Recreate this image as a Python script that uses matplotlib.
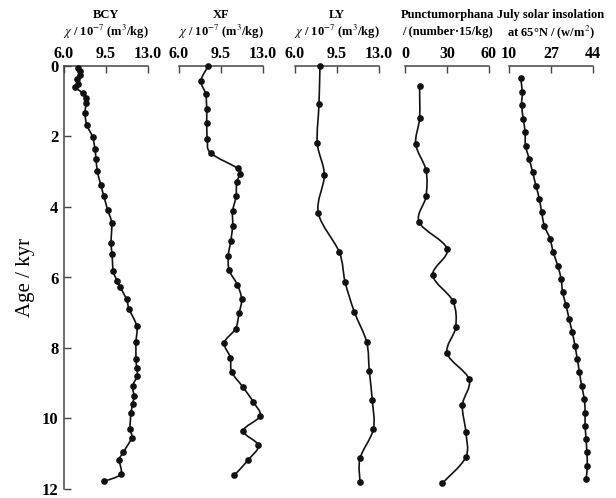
import numpy as np
import matplotlib
matplotlib.use('Agg')
import matplotlib.pyplot as plt
from matplotlib.path import Path
from matplotlib.patches import PathPatch

plt.rcParams['font.family'] = ['Liberation Serif', 'DejaVu Serif']
plt.rcParams['mathtext.fontset'] = 'stix'

# Données (âge en kyr, valeur)
bcy_age = [0.07, 0.15, 0.25, 0.38, 0.50, 0.60, 0.78, 0.90, 1.04, 1.34, 1.67, 2.02, 2.36, 2.64,
           2.99, 3.37, 3.70, 4.09, 4.45, 5.02, 5.32, 5.82, 6.10, 6.27, 6.62, 6.89, 7.38, 7.83,
           8.30, 8.56, 8.79, 9.08, 9.36, 9.60, 9.85, 10.30, 10.54, 10.96, 11.17, 11.58, 11.78]
bcy_val = [7.20, 7.35, 7.30, 7.10, 7.20, 6.95, 7.60, 7.80, 7.85, 7.75, 7.90, 8.39, 8.58, 8.67,
           8.78, 9.06, 9.33, 9.64, 9.97, 9.92, 10.00, 10.11, 10.44, 10.67, 11.22, 11.42, 12.06, 12.00,
           12.00, 12.06, 12.10, 11.72, 11.83, 11.72, 11.58, 11.50, 11.64, 10.94, 10.61, 10.72, 9.36]

xf_age = [0.00, 0.42, 0.79, 1.23, 1.62, 2.08, 2.47, 2.90, 3.06, 3.30, 3.70, 4.12, 4.53, 4.97,
          5.38, 5.80, 6.20, 6.62, 7.02, 7.45, 7.85, 8.27, 8.68, 9.10, 9.53, 9.93, 10.35, 10.76,
          11.17, 11.61]
xf_val = [8.44, 7.83, 8.22, 8.31, 8.31, 8.36, 8.64, 10.89, 11.08, 10.81, 10.75, 10.47, 10.47, 10.31,
          10.11, 10.19, 10.86, 11.22, 11.00, 10.72, 9.78, 10.28, 10.39, 11.31, 12.19, 12.75, 11.36, 12.61,
          11.78, 10.61]

ly_age = [0.00, 1.08, 2.19, 3.09, 4.17, 5.28, 6.12, 6.97, 7.83, 8.65, 9.48, 10.30, 11.13, 11.80]
ly_val = [8.08, 8.00, 7.86, 8.44, 7.94, 9.69, 10.17, 10.94, 11.97, 12.19, 12.44, 12.53, 11.42, 11.42]

punct_age = [0.58, 1.48, 2.22, 2.96, 3.70, 4.43, 5.19, 5.93, 6.67, 7.41, 8.15, 8.89, 9.62,
             10.37, 11.10, 11.84]
punct_val = [10.4, 10.4, 7.7, 15.0, 15.0, 10.1, 30.1, 19.8, 34.2, 36.2, 30.1, 45.8, 41.0,
             43.4, 43.4, 26.5]

sol_age = [0.35, 0.75, 1.10, 1.51, 1.86, 2.26, 2.64, 3.02, 3.40, 3.77, 4.15, 4.53, 4.90, 5.28,
           5.66, 6.04, 6.42, 6.79, 7.17, 7.55, 7.93, 8.30, 8.68, 9.08, 9.45, 9.83, 10.21, 10.57,
           10.96, 11.34, 11.72]
sol_val = [14.7, 15.4, 15.1, 15.8, 16.5, 16.7, 18.2, 19.6, 20.9, 22.3, 23.2, 24.3, 26.6, 27.9,
           29.7, 31.1, 31.7, 33.1, 34.3, 35.6, 36.7, 37.6, 38.5, 39.4, 40.5, 40.8, 40.8, 41.2,
           41.5, 41.7, 41.2]

chi = '$\\chi$ / 10$^{-7}$ (m$^{3}$/kg)'
titres = [('BCY', chi), ('XF', chi), ('LY', chi),
          ('Punctumorphana', '/ (number·15/kg)'),
          ('July solar insolation', 'at 65°N / (w/m$^{2}$)')]
limites = [(6.0, 13.0), (6.0, 13.0), (6.0, 13.0), (0, 60), (10, 44)]
graduations = [([6.0, 9.5, 13.0], ['6.0', '9.5', '13.0'])] * 3 + \
              [([0, 30, 60], ['0', '30', '60']), ([10, 27, 44], ['10', '27', '44'])]
series = [(bcy_val, bcy_age), (xf_val, xf_age), (ly_val, ly_age),
          (punct_val, punct_age), (sol_val, sol_age)]


def courbe_lissee(ax, x, y):
    """Trace une courbe de Catmull-Rom passant par les points (Bezier cubiques)"""
    p = np.column_stack([x, y]).astype(float)
    verts = [p[0]]
    codes = [Path.MOVETO]
    n = len(p)
    for i in range(n - 1):
        p0 = p[i - 1] if i > 0 else p[i]
        p1, p2 = p[i], p[i + 1]
        p3 = p[i + 2] if i + 2 < n else p[i + 1]
        c1 = p1 + (p2 - p0) / 6.0
        c2 = p2 - (p3 - p1) / 6.0
        verts += [c1, c2, p2]
        codes += [Path.CURVE4] * 3
    patch = PathPatch(Path(verts, codes), facecolor='none', edgecolor='#111111',
                      lw=1.2, clip_on=False)
    ax.add_patch(patch)


W, H = 616, 498
fig = plt.figure(figsize=(W / 100, H / 100), dpi=100)

gauches = [64, 179, 295, 405, 509]
largeur = 84
haut, bas = 66, 489
couleur_axe = '#444444'

for i, (g, (x, y)) in enumerate(zip(gauches, series)):
    ax = fig.add_axes([g / W, 1 - bas / H, largeur / W, (bas - haut) / H])
    ax.set_xlim(*limites[i])
    ax.set_ylim(12, 0)
    ax.patch.set_alpha(0)

    courbe_lissee(ax, x, y)
    ax.plot(x, y, 'o', color='#111111', ms=3.8, clip_on=False, zorder=3)

    ax.xaxis.tick_top()
    ax.set_xticks(graduations[i][0])
    ax.set_xticklabels(graduations[i][1], fontweight='bold')
    ax.tick_params(axis='x', direction='in', length=5, width=1, color=couleur_axe,
                   labelsize=11.5, pad=3)
    for s in ['bottom', 'right']:
        ax.spines[s].set_visible(False)
    ax.spines['top'].set_color(couleur_axe)
    ax.spines['top'].set_linewidth(1.1)

    if i == 0:
        ax.set_yticks([0, 2, 4, 6, 8, 10, 12])
        ax.set_yticklabels(['0', '2', '4', '6', '8', '10', '12'], fontweight='bold')
        ax.tick_params(axis='y', direction='in', length=5, width=1, color=couleur_axe,
                       labelsize=12, pad=4)
        ax.spines['left'].set_color(couleur_axe)
        ax.spines['left'].set_linewidth(1.1)
        ax.set_ylabel('Age / kyr', fontsize=15, labelpad=5)
    else:
        ax.spines['left'].set_visible(False)
        ax.set_yticks([])

    # Titres au-dessus de chaque panneau
    cx = (g + largeur / 2) / W
    fig.text(cx, 1 - 15 / H, titres[i][0], ha='center', va='center',
             fontsize=9, fontweight='bold')
    fig.text(cx, 1 - 32 / H, titres[i][1], ha='center', va='center',
             fontsize=9, fontweight='bold')

fig.savefig('out.png', dpi=100)
